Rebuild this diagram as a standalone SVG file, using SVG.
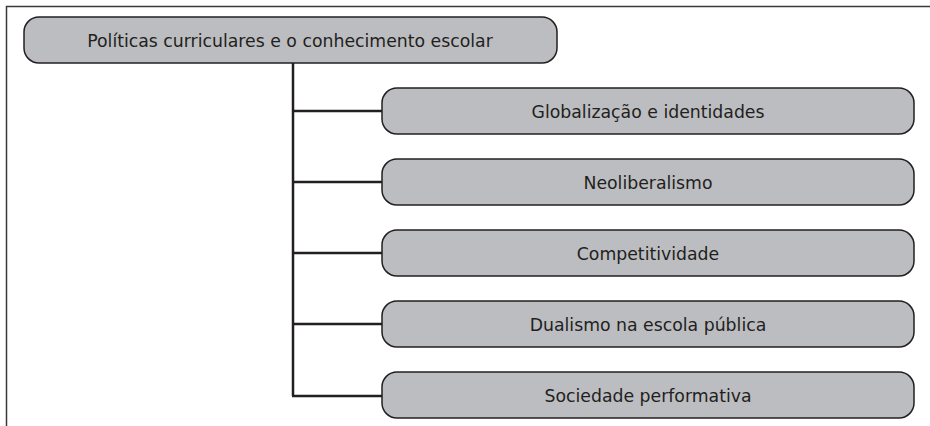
<svg xmlns="http://www.w3.org/2000/svg" width="930" height="426" viewBox="0 0 930 426">
<style>
.box{fill:#bcbdc0;stroke:#231f20;stroke-width:1.5}
.lbl{font-family:"DejaVu Sans","Liberation Sans",sans-serif;font-size:17.3px;fill:#231f20;text-anchor:middle}
.con{stroke:#231f20;stroke-width:2.5;fill:none}
.frame{stroke:#3a3a3a;stroke-width:1.5;fill:none}
</style>
<rect width="930" height="426" fill="#ffffff"/>
<path class="frame" d="M6.5,426 V6.5 H930"/>
<g id="connectors">
<path class="con" d="M293,63 V396"/>
<path class="con" d="M293,111 H382"/>
<path class="con" d="M293,182 H382"/>
<path class="con" d="M293,253 H382"/>
<path class="con" d="M293,324 H382"/>
<path class="con" d="M292,396 H382"/>
</g>
<g id="root">
<rect class="box" x="24" y="17" width="533" height="46" rx="15"/>
<text class="lbl" x="290" y="47">Políticas curriculares e o conhecimento escolar</text>
</g>
<g id="n1">
<rect class="box" x="382" y="88" width="532" height="46" rx="15"/>
<text class="lbl" x="648" y="118">Globalização e identidades</text>
</g>
<g id="n2">
<rect class="box" x="382" y="159" width="532" height="46" rx="15"/>
<text class="lbl" x="648" y="189">Neoliberalismo</text>
</g>
<g id="n3">
<rect class="box" x="382" y="230" width="532" height="46" rx="15"/>
<text class="lbl" x="648" y="260">Competitividade</text>
</g>
<g id="n4">
<rect class="box" x="382" y="301" width="532" height="46" rx="15"/>
<text class="lbl" x="648" y="331">Dualismo na escola pública</text>
</g>
<g id="n5">
<rect class="box" x="382" y="372" width="532" height="46" rx="15"/>
<text class="lbl" x="648" y="402">Sociedade performativa</text>
</g>
</svg>
